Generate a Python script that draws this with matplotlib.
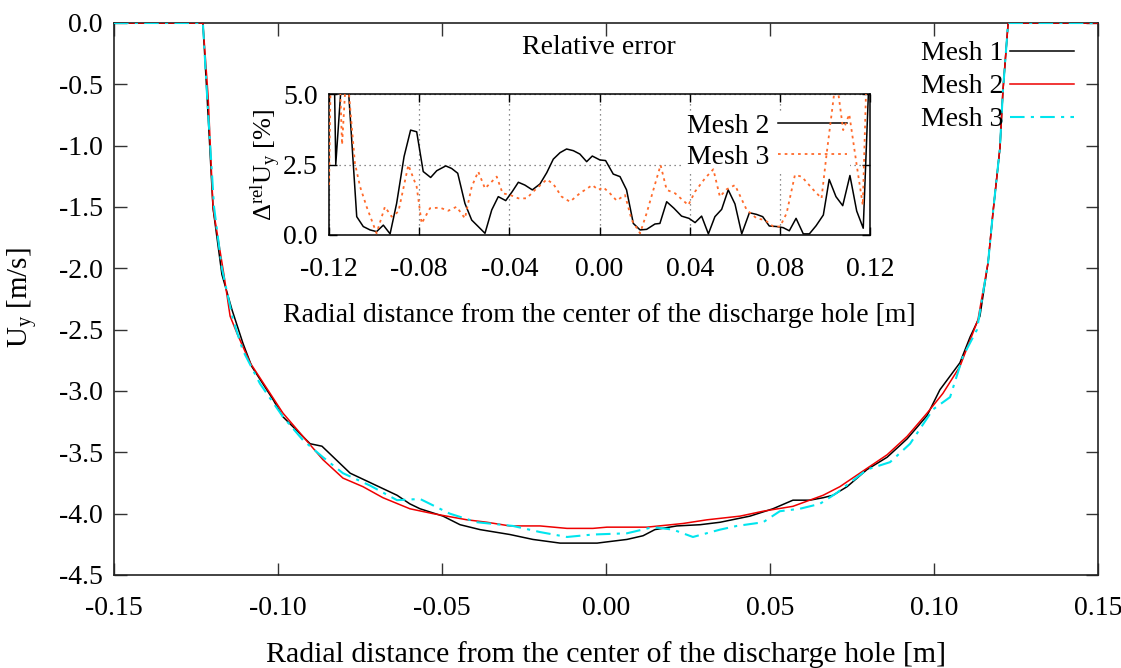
import matplotlib
matplotlib.use("Agg")
import matplotlib.pyplot as plt
from matplotlib.ticker import FormatStrFormatter

plt.rcParams['font.family'] = ['Liberation Serif', 'DejaVu Serif']
plt.rcParams['mathtext.fontset'] = 'custom'
plt.rcParams['mathtext.rm'] = 'Liberation Serif'
plt.rcParams['mathtext.it'] = 'Liberation Serif:italic'
plt.rcParams['axes.unicode_minus'] = False

# ---------------- main chart data ----------------
mesh1_x = [-0.15, -0.1229, -0.1216, -0.1198, -0.1171, -0.1140, -0.1107, -0.1080, -0.1015, -0.0985,
           -0.0902, -0.0866, -0.0780, -0.0637, -0.0598, -0.0567, -0.0497, -0.0445, -0.0384, -0.0293,
           -0.0223, -0.0140, -0.0027, 0.0003, 0.0064, 0.0113, 0.0149, 0.0216, 0.0287, 0.0348,
           0.0439, 0.0509, 0.0570, 0.0622, 0.0662, 0.0692, 0.0735, 0.0796, 0.0857, 0.0918,
           0.0979, 0.1018, 0.1079, 0.1110, 0.1140, 0.1165, 0.1180, 0.1201, 0.1210, 0.1226, 0.15]
mesh1_y = [0.0, 0.0, -0.61, -1.51, -2.05, -2.34, -2.61, -2.80, -3.07, -3.21,
           -3.43, -3.45, -3.67, -3.85, -3.92, -3.96, -4.02, -4.09, -4.13, -4.17,
           -4.21, -4.24, -4.24, -4.23, -4.21, -4.18, -4.13, -4.10, -4.09, -4.07,
           -4.02, -3.96, -3.89, -3.89, -3.87, -3.85, -3.78, -3.64, -3.54, -3.39,
           -3.20, -2.99, -2.77, -2.56, -2.39, -1.95, -1.54, -1.02, -0.56, 0.0, 0.0]

mesh2_x = [-0.15, -0.1229, -0.1213, -0.1198, -0.1165, -0.1146, -0.1125, -0.1085, -0.1024, -0.0985,
           -0.0924, -0.0863, -0.0802, -0.0741, -0.0680, -0.0598, -0.0527, -0.0424, -0.0363, -0.0293,
           -0.0201, -0.0119, -0.0040, 0.0003, 0.0125, 0.0235, 0.0308, 0.0409, 0.0479, 0.0570,
           0.0662, 0.0713, 0.0796, 0.0857, 0.0918, 0.0979, 0.1027, 0.1079, 0.1134, 0.1165,
           0.1180, 0.1201, 0.1210, 0.1226, 0.15]
mesh2_y = [0.0, 0.0, -0.60, -1.51, -2.05, -2.39, -2.53, -2.77, -3.02, -3.18,
           -3.37, -3.56, -3.71, -3.78, -3.87, -3.96, -4.00, -4.05, -4.07, -4.10,
           -4.10, -4.12, -4.12, -4.11, -4.11, -4.08, -4.05, -4.02, -3.98, -3.94,
           -3.85, -3.78, -3.63, -3.52, -3.37, -3.18, -3.02, -2.80, -2.42, -1.95,
           -1.54, -1.02, -0.56, 0.0, 0.0]

mesh3_x = [-0.15, -0.1229, -0.1216, -0.1195, -0.1171, -0.1137, -0.1107, -0.1055, -0.0985, -0.0924,
           -0.0863, -0.0802, -0.0720, -0.0637, -0.0567, -0.0476, -0.0393, -0.0284, -0.0201, -0.0119,
           -0.0040, 0.0064, 0.0143, 0.0204, 0.0265, 0.0348, 0.0399, 0.0479, 0.0530, 0.0591,
           0.0652, 0.0704, 0.0796, 0.0866, 0.0927, 0.0997, 0.1049, 0.1088, 0.1131, 0.1165,
           0.1180, 0.1201, 0.1210, 0.1226, 0.15]
mesh3_y = [0.0, 0.0, -0.60, -1.50, -2.00, -2.42, -2.67, -2.94, -3.21, -3.40,
           -3.54, -3.67, -3.77, -3.89, -3.88, -4.00, -4.07, -4.10, -4.15, -4.19,
           -4.17, -4.16, -4.11, -4.13, -4.19, -4.13, -4.10, -4.07, -3.98, -3.96,
           -3.92, -3.83, -3.64, -3.58, -3.43, -3.15, -3.05, -2.72, -2.50, -1.95,
           -1.54, -1.02, -0.56, 0.0, 0.0]

# ---------------- inset (relative error) data ----------------
err2_x = [-0.1200, -0.1170, -0.1140, -0.1115, -0.1077, -0.1048, -0.1018, -0.0989, -0.0959, -0.0929,
          -0.0900, -0.0867, -0.0838, -0.0811, -0.0782, -0.0749, -0.0722, -0.0682, -0.0656, -0.0629,
          -0.0597, -0.0567, -0.0538, -0.0508, -0.0478, -0.0449, -0.0416, -0.0387, -0.0360, -0.0331,
          -0.0298, -0.0264, -0.0234, -0.0205, -0.0175, -0.0146, -0.0116, -0.0087, -0.0057, -0.0032,
          0.0002, 0.0027, 0.0061, 0.0091, 0.0120, 0.0150, 0.0180, 0.0209, 0.0246, 0.0268,
          0.0298, 0.0330, 0.0364, 0.0397, 0.0424, 0.0453, 0.0483, 0.0512, 0.0542, 0.0571,
          0.0601, 0.0631, 0.0665, 0.0697, 0.0724, 0.0753, 0.0786, 0.0815, 0.0842, 0.0872,
          0.0904, 0.0931, 0.0961, 0.0993, 0.1019, 0.1049, 0.1079, 0.1111, 0.1141, 0.1170, 0.1200]
err2_y = [17.5, 2.5, 6.0, 5.3, 0.65, 0.30, 0.18, 0.12, 0.35, 0.04,
          1.12, 2.78, 3.72, 3.66, 2.25, 2.04, 2.28, 2.45, 2.36, 2.19,
          1.12, 0.53, 0.30, 0.06, 0.89, 1.36, 1.22, 1.54, 1.87, 1.77,
          1.60, 1.81, 2.21, 2.69, 2.92, 3.05, 2.99, 2.87, 2.60, 2.80,
          2.66, 2.64, 2.16, 2.07, 1.60, 0.41, 0.18, 0.20, 0.39, 0.41,
          1.18, 0.95, 0.67, 0.59, 0.44, 0.67, 0.04, 0.65, 0.91, 1.60,
          1.10, 0.04, 0.79, 0.73, 0.65, 0.32, 0.30, 0.26, 0.15, 0.59,
          0.04, 0.04, 0.33, 0.71, 1.97, 1.36, 1.04, 2.11, 0.85, 0.24, 6.5]

err3_x = [-0.1200, -0.1180, -0.1142, -0.1122, -0.1085, -0.1062, -0.1033, -0.0989, -0.0952, -0.0922,
          -0.0892, -0.0848, -0.0811, -0.0789, -0.0752, -0.0708, -0.0671, -0.0634, -0.0597, -0.0567,
          -0.0538, -0.0508, -0.0456, -0.0430, -0.0397, -0.0360, -0.0323, -0.0286, -0.0234, -0.0205,
          -0.0168, -0.0131, -0.0087, -0.0032, -0.0005, 0.0017, 0.0046, 0.0076, 0.0113, 0.0143,
          0.0180, 0.0209, 0.0239, 0.0271, 0.0298, 0.0335, 0.0394, 0.0424, 0.0468, 0.0505,
          0.0534, 0.0564, 0.0601, 0.0653, 0.0697, 0.0734, 0.0771, 0.0801, 0.0830, 0.0867,
          0.0897, 0.0949, 0.0985, 0.1007, 0.1030, 0.1050, 0.1081, 0.1108, 0.1141, 0.1168, 0.1200]
err3_y = [1.77, 12.0, 3.2, 6.0, 2.54, 1.71, 1.00, 0.06, 1.00, 0.65,
          0.83, 2.48, 1.71, 0.41, 0.95, 0.97, 0.86, 1.00, 0.59, 1.71,
          2.25, 1.65, 2.07, 1.48, 1.42, 1.30, 1.30, 1.60, 1.97, 1.81,
          1.36, 1.18, 1.48, 1.77, 1.60, 1.69, 1.48, 1.22, 1.42, 0.53,
          0.06, 0.77, 1.60, 2.48, 1.60, 1.48, 1.06, 1.54, 2.01, 2.33,
          1.36, 1.62, 1.77, 0.89, 0.59, 0.53, 0.30, 0.30, 0.77, 2.13,
          2.07, 1.60, 1.30, 2.84, 4.31, 5.6, 3.72, 4.28, 2.48, 1.06, 10.0]

main_xticks = [-0.15, -0.10, -0.05, 0.00, 0.05, 0.10, 0.15]
main_yticks = [0.0, -0.5, -1.0, -1.5, -2.0, -2.5, -3.0, -3.5, -4.0, -4.5]
inset_xticks = [-0.12, -0.08, -0.04, 0.00, 0.04, 0.08, 0.12]
inset_yticks = [0.0, 2.5, 5.0]

W, H = 1121, 668
fig = plt.figure(figsize=(W / 100, H / 100), dpi=100)

def fx(px):
    return px / W

def fy(py):
    return 1 - py / H

FS = 20
CYAN = '#00e5ee'
ORANGE = '#ff6a2a'

# ---------------- main axes ----------------
ax = fig.add_axes([fx(114), fy(575), fx(1098) - fx(114), fy(23) - fy(575)])
ax.plot(mesh1_x, mesh1_y, color='black', lw=1.1, label='Mesh 1', zorder=3)
ax.plot(mesh2_x, mesh2_y, color='#ee0000', lw=1.1, label='Mesh 2', zorder=3)
ax.plot(mesh3_x, mesh3_y, color=CYAN, lw=1.5, dashes=(7, 3, 1.5, 3), label='Mesh 3', zorder=3)
ax.set_xlim(-0.15, 0.15)
ax.set_ylim(-4.5, 0.0)
ax.set_xticks(main_xticks)
ax.set_yticks(main_yticks)
ax.xaxis.set_major_formatter(FormatStrFormatter('%.2f'))
ax.yaxis.set_major_formatter(FormatStrFormatter('%.1f'))
ax.tick_params(direction='in', top=True, right=True, length=9, width=1.0,
               labelsize=FS, color='#333333')
ax.tick_params(axis='x', pad=15)
ax.tick_params(axis='y', pad=8)
for s in ax.spines.values():
    s.set_linewidth(1.2)
    s.set_color('#222222')
ax.set_xlabel('Radial distance from the center of the discharge hole [m]', fontsize=21.5)
ax.xaxis.set_label_coords(0.5, (575 - 655) / 552)
ax.xaxis.label.set_va('center')
ax.set_ylabel(r'U$_\mathrm{y}$ [m/s]', fontsize=21)
ax.yaxis.set_label_coords((22 - 114) / 984, (575 - 298) / 552)
ax.yaxis.label.set_va('center')

leg = ax.legend(loc='upper right', bbox_to_anchor=(fx(1074), fy(41)),
                bbox_transform=fig.transFigure, frameon=False, markerfirst=False,
                fontsize=FS, handlelength=2.3, handletextpad=0.25, labelspacing=0.27,
                borderpad=0.0, borderaxespad=0.0)

# ---------------- inset axes ----------------
axi = fig.add_axes([fx(329), fy(235), fx(870) - fx(329), fy(94) - fy(235)])
axi.set_axisbelow(True)
axi.plot(err2_x, err2_y, color='black', lw=1.1, label='Mesh 2', zorder=3)
axi.plot(err3_x, err3_y, color=ORANGE, lw=1.3, dashes=(1.5, 2.2), label='Mesh 3', zorder=3)
axi.set_xlim(-0.12, 0.12)
axi.set_ylim(0.0, 5.0)
axi.set_xticks(inset_xticks)
axi.set_yticks(inset_yticks)
axi.xaxis.set_major_formatter(FormatStrFormatter('%.2f'))
axi.yaxis.set_major_formatter(FormatStrFormatter('%.1f'))
axi.tick_params(direction='in', top=True, right=True, length=6, width=1.0,
                labelsize=FS)
axi.tick_params(axis='x', pad=16)
axi.tick_params(axis='y', pad=8)
axi.grid(True, color='#666666', lw=0.9, linestyle=(0, (1, 3)))
for s in axi.spines.values():
    s.set_linewidth(1.1)
    s.set_color('black')
axi.set_facecolor('none')
axi.set_xlabel('Radial distance from the center of the discharge hole [m]', fontsize=FS)
axi.xaxis.set_label_coords(0.5, (235 - 316) / 141)
axi.xaxis.label.set_va('center')
axi.set_ylabel(r'$\Delta^{\mathrm{rel}}$U$_\mathrm{y}$ [%]', fontsize=19)
axi.yaxis.set_label_coords((266 - 329) / 541, 0.5)
axi.yaxis.label.set_va('center')
fig.text(fx(599), fy(47), 'Relative error', ha='center', va='center', fontsize=FS)

legi = axi.legend(loc='upper right', bbox_to_anchor=(fx(850), fy(111)),
                  bbox_transform=fig.transFigure, frameon=True, markerfirst=False,
                  fontsize=FS, handlelength=2.5, handletextpad=0.3, labelspacing=0.2,
                  borderpad=0.1, borderaxespad=0.0, fancybox=False, framealpha=1.0,
                  edgecolor='none', facecolor='white')
legi.set_zorder(2)

fig.savefig('out.png', dpi=100)
